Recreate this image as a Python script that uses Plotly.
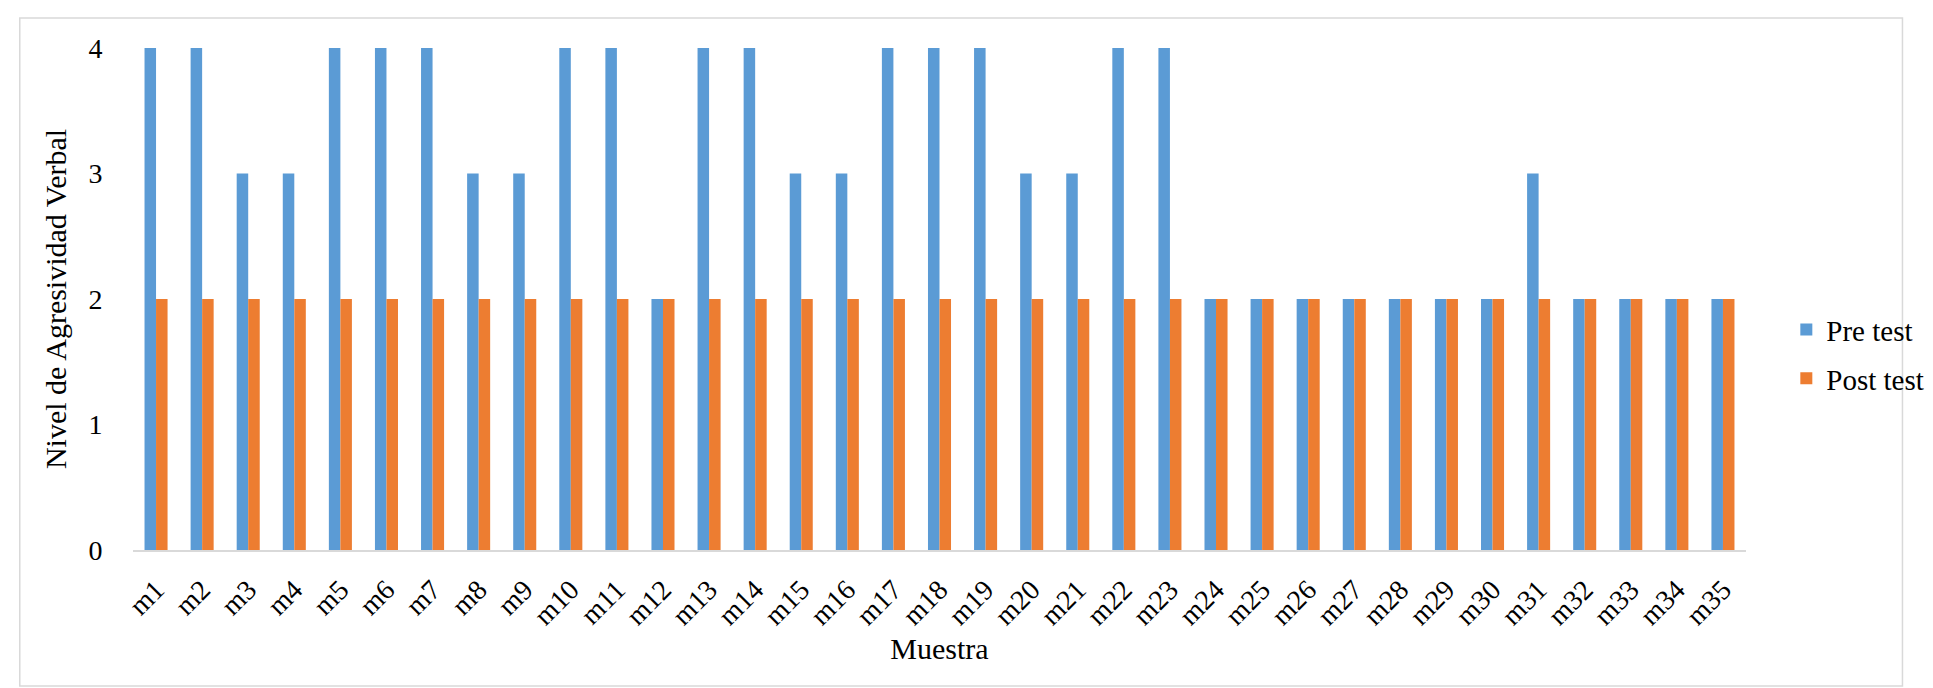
import plotly.graph_objects as go

categories = [f"m{i}" for i in range(1, 36)]
pre_test = [4, 4, 3, 3, 4, 4, 4, 3, 3, 4, 4, 2, 4, 4, 3, 3, 4, 4, 4, 3, 3, 4, 4,
            2, 2, 2, 2, 2, 2, 2, 3, 2, 2, 2, 2]
post_test = [2] * 35
y_ticks = [0, 1, 2, 3, 4]

FONT = "Liberation Serif, Times New Roman, serif"

fig = go.Figure()
fig.add_trace(go.Bar(x=categories, y=pre_test, name="Pre test",
                     marker=dict(color="#5b9bd5", line=dict(width=0)),
                     legendgroup="a"))
fig.add_trace(go.Bar(x=categories, y=post_test, name="Post test",
                     marker=dict(color="#ed7d31", line=dict(width=0)),
                     legendgroup="b"))

fig.update_layout(
    width=1933, height=688,
    margin=dict(l=125, r=169, t=40, b=146),
    paper_bgcolor="white", plot_bgcolor="white",
    font=dict(family=FONT, size=28, color="black"),
    barmode="group", bargap=0.5, bargroupgap=0,
    showlegend=True,
    legend=dict(x=1.025, y=0.39, xanchor="left", yanchor="middle",
                font=dict(family=FONT, size=29, color="black"),
                tracegroupgap=8, bgcolor="rgba(0,0,0,0)"),
    xaxis=dict(
        tickangle=-45, showgrid=False, showline=True, linecolor="#d9d9d9",
        linewidth=2, ticks="outside", ticklen=10, tickcolor="rgba(0,0,0,0)",
        tickfont=dict(family=FONT, size=28),
        title=dict(text="Muestra", font=dict(family=FONT, size=30), standoff=8),
    ),
    yaxis=dict(
        range=[0, 4], tickvals=y_ticks, showgrid=False, showline=False,
        zeroline=False, ticks="outside", ticklen=24, tickcolor="rgba(0,0,0,0)",
        tickfont=dict(family=FONT, size=28),
        title=dict(text="Nivel de Agresividad Verbal", font=dict(family=FONT, size=30),
                   standoff=12),
    ),
)

fig.add_shape(type="rect", xref="paper", yref="paper",
              x0=-0.0702, x1=1.097, y0=-0.2709, y1=1.0598,
              line=dict(color="#d9d9d9", width=1.5), fillcolor="rgba(0,0,0,0)",
              layer="below")

fig.write_html("out.html")
